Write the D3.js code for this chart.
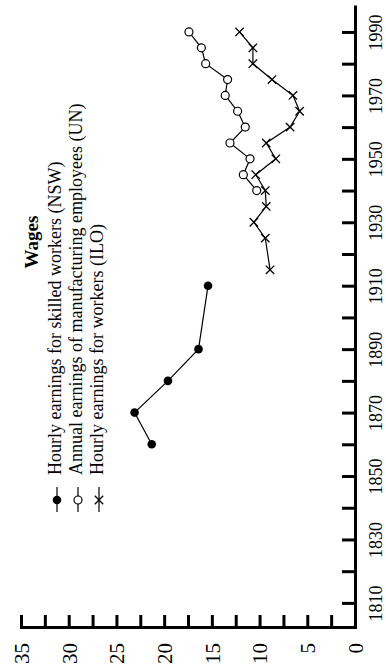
<!DOCTYPE html>
<html>
<head>
<meta charset="utf-8">
<script src="https://cdn.jsdelivr.net/npm/d3@7"></script>
<style>
  html, body { margin: 0; padding: 0; background: #fff; }
  svg { display: block; }
  text { font-family: "Liberation Serif", "Times New Roman", serif; fill: #000; }
</style>
</head>
<body>
<svg id="chart" width="386" height="671"></svg>
<script>
// ---- data ----
const nswYears   = [1860, 1870, 1880, 1890, 1910];
const nswValues  = [21.3, 23.1, 19.6, 16.4, 15.4];

const unYears    = [1940, 1945, 1950, 1955, 1960, 1965, 1970, 1975, 1980, 1985, 1990];
const unValues   = [10.3, 11.7, 11.0, 13.1, 11.5, 12.3, 13.6, 13.35, 15.65, 16.1, 17.4];

const iloYears   = [1915, 1925, 1930, 1935, 1940, 1945, 1950, 1955, 1960, 1965, 1970, 1975, 1980, 1985, 1990];
const iloValues  = [8.9, 9.4, 10.6, 9.3, 9.4, 10.4, 8.3, 9.3, 6.8, 5.8, 6.5, 8.7, 10.7, 10.7, 12.1];

const yearTicks  = d3.range(1810, 1991, 10);
const yearLabels = d3.range(1810, 1991, 20);
const valueTicks = d3.range(0, 35.01, 2.5);
const valueLabels = [0, 5, 10, 15, 20, 25, 30, 35];

const title = "Wages";
const seriesNames = [
  "Hourly earnings for skilled workers (NSW)",
  "Annual earnings of manufacturing employees (UN)",
  "Hourly earnings for workers (ILO)"
];
const seriesSymbols = ["filled", "open", "x"];

// ---- layout (chart drawn rotated: years run bottom->top, values run right->left) ----
const svg = d3.select("#chart");

const yScale = d3.scaleLinear().domain([1802.4, 1998.5]).range([627, 5]);   // years, vertical
const xScale = d3.scaleLinear().domain([0, 35]).range([355, 21]);           // values, horizontal

// Year axis (vertical line on right, ticks inward, labels outside)
const yAxis = d3.axisRight(yScale)
  .tickValues(yearTicks)
  .tickSizeInner(-13)
  .tickSizeOuter(0)
  .tickFormat(d => yearLabels.includes(d) ? String(d) : "");

const gy = svg.append("g").attr("transform", "translate(355,0)").call(yAxis);
gy.select(".domain").attr("stroke", "#000").attr("stroke-width", 3);
gy.selectAll(".tick line").attr("stroke", "#000").attr("stroke-width", 3);
gy.selectAll(".tick text")
  .attr("x", null).attr("dy", null)
  .attr("transform", "translate(27,0) rotate(-90)")
  .attr("text-anchor", "middle")
  .attr("font-size", 18)
  .attr("fill", "#000");

// Value axis (horizontal line at bottom, ticks inward, labels outside)
const xAxis = d3.axisBottom(xScale)
  .tickValues(valueTicks)
  .tickSizeInner(-12)
  .tickSizeOuter(0)
  .tickFormat(d => valueLabels.includes(d) ? String(d) : "");

const gx = svg.append("g").attr("transform", "translate(0,627)").call(xAxis);
gx.select(".domain").attr("stroke", "#000").attr("stroke-width", 3).attr("stroke-linecap", "square");
gx.selectAll(".tick line").attr("stroke", "#000").attr("stroke-width", 3);
gx.selectAll(".tick text")
  .attr("y", null).attr("dy", null)
  .attr("transform", "translate(0,16) rotate(-90)")
  .attr("text-anchor", "end")
  .attr("dy", "0.35em")
  .attr("font-size", 21)
  .attr("fill", "#000");

// ---- series ----
const line = d3.line().x(d => xScale(d.v)).y(d => yScale(d.y));

function drawMarker(g, type, x, y) {
  if (type === "filled") {
    g.append("circle").attr("cx", x).attr("cy", y).attr("r", 4.3).attr("fill", "#000");
  } else if (type === "open") {
    g.append("circle").attr("cx", x).attr("cy", y).attr("r", 4).attr("fill", "#fff")
      .attr("stroke", "#000").attr("stroke-width", 1.2);
  } else {
    const s = 4.2;
    g.append("path")
      .attr("d", `M${x - s},${y - s}L${x + s},${y + s}M${x - s},${y + s}L${x + s},${y - s}`)
      .attr("stroke", "#000").attr("stroke-width", 1.3).attr("fill", "none");
  }
}

const series = [
  { years: nswYears, values: nswValues, sym: seriesSymbols[0] },
  { years: unYears,  values: unValues,  sym: seriesSymbols[1] },
  { years: iloYears, values: iloValues, sym: seriesSymbols[2] }
];

series.forEach(s => {
  const pts = s.years.map((y, i) => ({ y: y, v: s.values[i] }));
  const g = svg.append("g");
  g.append("path").datum(pts).attr("d", line)
    .attr("fill", "none").attr("stroke", "#000").attr("stroke-width", 1.2);
  pts.forEach(p => drawMarker(g, s.sym, xScale(p.v), yScale(p.y)));
});

// ---- legend (rotated) ----
const leg = svg.append("g");
leg.append("text")
  .attr("transform", "translate(38,242) rotate(-90)")
  .attr("text-anchor", "middle")
  .attr("font-size", 19)
  .attr("font-weight", "bold")
  .text(title);

const legBase = [61, 82, 103];
seriesNames.forEach((name, i) => {
  const cx = legBase[i] - 4;
  leg.append("line").attr("x1", cx).attr("x2", cx).attr("y1", 487).attr("y2", 512)
    .attr("stroke", "#000").attr("stroke-width", 1.2);
  drawMarker(leg, seriesSymbols[i], cx, 500);
  leg.append("text")
    .attr("transform", `translate(${legBase[i]},475) rotate(-90)`)
    .attr("text-anchor", "start")
    .attr("font-size", 18)
    .text(name);
});
</script>
</body>
</html>
